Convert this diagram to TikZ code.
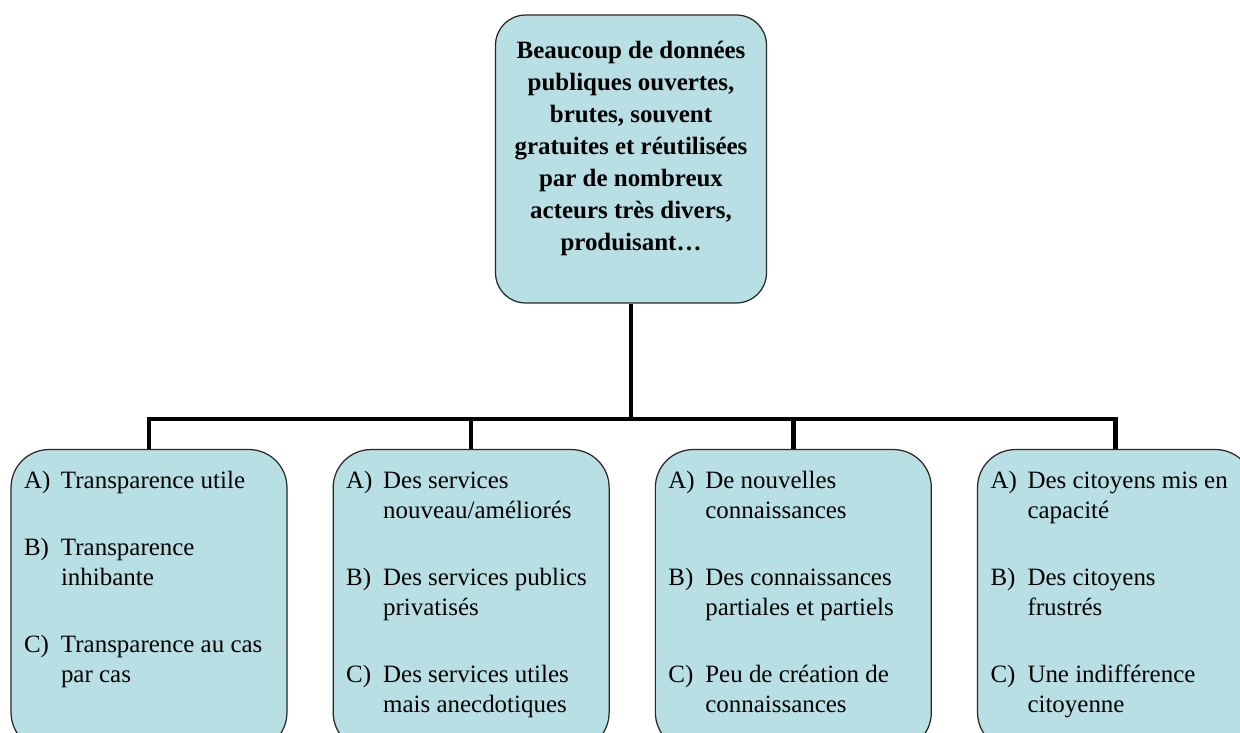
\documentclass[tikz,border=0pt]{standalone}
\usepackage{fontspec}
\setmainfont{Liberation Serif}
\usetikzlibrary{positioning}

\definecolor{paleblue}{RGB}{184,223,227}

% one lettered line of a box, with hanging text
\newcommand\choice[2]{\noindent\hangindent=0.74cm\hangafter=1\makebox[0.74cm][l]{#1}#2\par}
\newcommand\gap{\vspace{0.74cm}}
\newcommand\leaftext[1]{\parbox[c][6.02cm][t]{5.52cm}{\leftskip=0.26cm\vspace*{0.44cm}#1}}

\begin{document}
\begin{tikzpicture}[x=0.02cm, y=-0.02cm,
    topbox/.style={draw=black!85, line width=0.7pt, fill=paleblue, rounded corners=0.6cm,
        minimum width=5.42cm, minimum height=5.76cm, inner sep=0pt,
        font=\bfseries\fontsize{14.2}{18.2}\selectfont},
    leafbox/.style={draw=black!85, line width=0.7pt, fill=paleblue, rounded corners=0.76cm,
        minimum width=5.52cm, minimum height=6.02cm, inner sep=0pt,
        font=\fontsize{14.2}{17}\selectfont},
    bar/.style={line width=2.6pt}]
    \useasboundingbox (0,0) rectangle (1240,733);
    \clip (0,0) rectangle (1240,733);

    \node (src) [topbox] at (631,159) {\parbox[c][5.76cm][t]{5.3cm}{\centering\vspace*{0.52cm}%
        Beaucoup de données\\ publiques ouvertes,\\ brutes, souvent\\ gratuites et réutilisées\\
        par de nombreux\\ acteurs très divers,\\ produisant…}};

    \node (transp) [leafbox] at (149,600) {\leaftext{%
        \choice{A)}{Transparence utile}\gap
        \choice{B)}{Transparence\\inhibante}\gap
        \choice{C)}{Transparence au cas\\par cas}}};
    \node (serv) [leafbox, right=0.9cm of transp] {\leaftext{%
        \choice{A)}{Des services\\nouveau/améliorés}\gap
        \choice{B)}{Des services publics\\privatisés}\gap
        \choice{C)}{Des services utiles\\mais anecdotiques}}};
    \node (conn) [leafbox, right=0.9cm of serv] {\leaftext{%
        \choice{A)}{De nouvelles\\connaissances}\gap
        \choice{B)}{Des connaissances\\partiales et partiels}\gap
        \choice{C)}{Peu de création de\\connaissances}}};
    \node (citoy) [leafbox, right=0.9cm of conn] {\leaftext{%
        \choice{A)}{Des citoyens mis en\\capacité}\gap
        \choice{B)}{Des citoyens\\frustrés}\gap
        \choice{C)}{Une indifférence\\citoyenne}}};

    \coordinate (hub) at (631,419);

    \draw[bar] (src.south) -- (hub);
    %
    \draw[bar] (transp.north) |- (hub);
    \draw[bar] (serv.north) |- (hub);
    \draw[bar] (conn.north) |- (hub);
    \draw[bar] (citoy.north) |- (hub);
\end{tikzpicture}
\end{document}
